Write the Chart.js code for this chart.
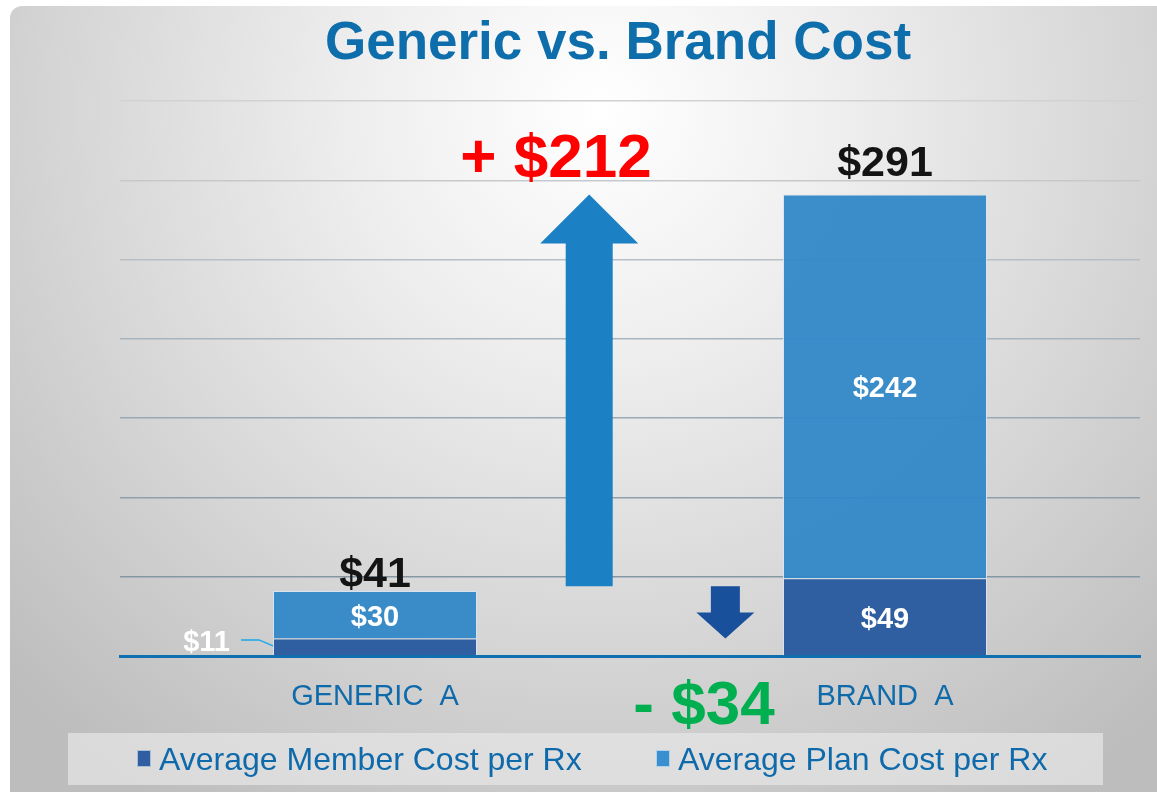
<!DOCTYPE html>
<html><head><meta charset="utf-8">
<script src="https://cdn.jsdelivr.net/npm/chart.js@4/dist/chart.umd.min.js"></script>
<style>html,body{margin:0;padding:0;background:#fff;overflow:hidden}#wrap{width:1157px;height:793px;position:relative}canvas{display:block}</style>
</head><body><div id="wrap"><canvas id="c" width="1157" height="793"></canvas></div>
<script>
// ---- data ----
const categories = ['GENERIC  A', 'BRAND  A'];
const memberCost = [11, 49];
const planCost = [30, 242];
const seriesNames = ['Average Member Cost per Rx', 'Average Plan Cost per Rx'];
const yTicks = [0, 50, 100, 150, 200, 250, 300, 350];
const planDeltaText = '+ $212';
const memberDeltaText = '- $34';

// ---- styles ----
const FONT = '"Liberation Sans", Arial, Helvetica, sans-serif';
const BLUE_TEXT = '#0f6aab';
const MEMBER_COLOR = '#2f5fa0';
const PLAN_COLOR = 'rgba(50,136,200,0.95)';
const gridColors = ['rgba(0,0,0,0)', '#8497a3', '#8fa0ab', '#9aa9b3', '#a8b4bc', '#b7bfc5', '#c6c9cc', '#d2d2d2'];

const money = v => '$' + v;

const bgPlugin = {
  id: 'bg',
  beforeDraw(chart) {
    const ctx = chart.ctx;
    ctx.save();
    ctx.fillStyle = '#ffffff';
    ctx.fillRect(0, 0, chart.width, chart.height);
    const g = ctx.createRadialGradient(600, 110, 0, 600, 110, 820);
    g.addColorStop(0, '#ffffff');
    g.addColorStop(0.3, '#eeeeee');
    g.addColorStop(0.65, '#d6d6d6');
    g.addColorStop(1, '#bdbdbd');
    ctx.fillStyle = g;
    ctx.beginPath();
    ctx.roundRect(10, 6, chart.width - 10, chart.height - 7, [12, 0, 0, 0]);
    ctx.fill();
    // legend panel
    ctx.fillStyle = 'rgba(228,228,228,0.75)';
    ctx.fillRect(68, 733, 1035, 52);
    ctx.restore();
  }
};

function drawArrow(ctx, cx, yStart, yTip, bodyW, headW, headLen, color) {
  const dir = yTip < yStart ? -1 : 1;
  const headBase = yTip - dir * headLen;
  ctx.save();
  ctx.fillStyle = color;
  ctx.beginPath();
  ctx.moveTo(cx - bodyW / 2, yStart);
  ctx.lineTo(cx - bodyW / 2, headBase);
  ctx.lineTo(cx - headW / 2, headBase);
  ctx.lineTo(cx, yTip);
  ctx.lineTo(cx + headW / 2, headBase);
  ctx.lineTo(cx + bodyW / 2, headBase);
  ctx.lineTo(cx + bodyW / 2, yStart);
  ctx.closePath();
  ctx.fill();
  ctx.restore();
}

const annotPlugin = {
  id: 'annot',
  afterDatasetsDraw(chart) {
    const ctx = chart.ctx;
    const xs = chart.scales.x, ys = chart.scales.y;
    const xAt = t => xs.getPixelForValue(0) + t * (xs.getPixelForValue(1) - xs.getPixelForValue(0));
    const totals = memberCost.map((m, i) => m + planCost[i]);
    const m0 = chart.getDatasetMeta(0), m1 = chart.getDatasetMeta(1);

    // arrows
    drawArrow(ctx, xAt(0.42), ys.getPixelForValue(totals[0] + 3), ys.getPixelForValue(totals[1]), 47, 98, 49, '#1b80c4');
    drawArrow(ctx, xAt(0.687), ys.getPixelForValue(totals[0] + 3), ys.getPixelForValue(memberCost[0]), 29, 58, 26, '#18509c');

    ctx.save();
    ctx.textAlign = 'center';
    ctx.textBaseline = 'middle';
    // segment labels (white)
    ctx.fillStyle = '#ffffff';
    ctx.font = 'bold 29px ' + FONT;
    m1.data.forEach((el, i) => {
      ctx.fillText(money(planCost[i]), el.x, (el.y + el.base) / 2 + 3);
    });
    m0.data.forEach((el, i) => {
      if (i === 0) return;
      ctx.fillText(money(memberCost[i]), el.x, (el.y + el.base) / 2 + 3);
    });
    // small member label on generic with leader line
    const e0 = m0.data[0];
    const left0 = e0.x - e0.width / 2;
    const cy0 = (e0.y + e0.base) / 2;
    ctx.strokeStyle = '#1aa6ea';
    ctx.lineWidth = 1.5;
    ctx.beginPath();
    ctx.moveTo(left0 - 32, cy0 - 7);
    ctx.lineTo(left0 - 14, cy0 - 7);
    ctx.lineTo(left0, cy0 - 1);
    ctx.stroke();
    ctx.textAlign = 'right';
    ctx.fillText(money(memberCost[0]), left0 - 43, cy0 - 4);

    // totals (black)
    ctx.textAlign = 'center';
    ctx.fillStyle = '#141414';
    ctx.font = 'bold 43px ' + FONT;
    const totalOffsets = [16, 30];
    m1.data.forEach((el, i) => {
      ctx.fillText(money(totals[i]), el.x, el.y - totalOffsets[i]);
    });

    // deltas
    ctx.font = 'bold 62px ' + FONT;
    ctx.fillStyle = '#ff0000';
    ctx.fillText(planDeltaText, xAt(0.355), ys.getPixelForValue(313));
    ctx.fillStyle = '#00b050';
    ctx.fillText(memberDeltaText, xAt(0.645), ys.getPixelForValue(-32));
    ctx.restore();
  }
};

const legendPlugin = {
  id: 'customLegend',
  afterDraw(chart) {
    const ctx = chart.ctx;
    const starts = [137, 656];
    ctx.save();
    ctx.font = '32px ' + FONT;
    ctx.textBaseline = 'middle';
    ctx.textAlign = 'left';
    chart.data.datasets.forEach((ds, i) => {
      const x = starts[i];
      ctx.fillStyle = ds.legendColor;
      ctx.fillRect(x, 750, 14, 17);
      ctx.strokeStyle = 'rgba(255,255,255,0.6)';
      ctx.lineWidth = 1;
      ctx.strokeRect(x + 0.5, 750.5, 13, 16);
      ctx.fillStyle = BLUE_TEXT;
      ctx.fillText(ds.label, x + 22, 761);
    });
    ctx.restore();
  }
};

new Chart(document.getElementById('c'), {
  type: 'bar',
  data: {
    labels: categories,
    datasets: [
      { label: seriesNames[0], data: memberCost, backgroundColor: MEMBER_COLOR, legendColor: MEMBER_COLOR,
        borderColor: 'rgba(215,228,242,0.9)', borderWidth: 1, borderSkipped: 'bottom' },
      { label: seriesNames[1], data: planCost, backgroundColor: PLAN_COLOR, legendColor: '#3a8fcf',
        borderColor: 'rgba(215,228,242,0.9)', borderWidth: 1, borderSkipped: 'bottom' }
    ]
  },
  options: {
    responsive: false,
    animation: false,
    devicePixelRatio: 1,
    layout: { padding: { left: 96, right: 17, top: 0, bottom: 80 } },
    datasets: { bar: { categoryPercentage: 1, barPercentage: 0.4 } },
    scales: {
      x: {
        stacked: true,
        z: 1,
        grid: { display: false, drawTicks: false },
        border: { display: true, color: '#0f6fb0', width: 3 },
        ticks: { color: BLUE_TEXT, font: { family: FONT, size: 29 }, padding: 24 },
        afterFit(s) { s.height = 57; }
      },
      y: {
        stacked: true,
        min: yTicks[0], max: yTicks[yTicks.length - 1],
        afterBuildTicks(s) { s.ticks = yTicks.map(v => ({ value: v })); },
        ticks: { display: false },
        grid: { color: c => gridColors[c.index] || '#d2d2d2', lineWidth: 1.5, drawTicks: false },
        border: { display: false },
        afterFit(s) { s.width = 24; }
      }
    },
    plugins: {
      legend: { display: false },
      tooltip: { enabled: false },
      title: {
        display: true,
        text: 'Generic vs. Brand Cost',
        color: '#0e6eab',
        font: { family: FONT, size: 53, weight: 'bold' },
        padding: { top: 13, bottom: 24.4 }
      }
    }
  },
  plugins: [bgPlugin, annotPlugin, legendPlugin]
});
</script>
</body></html>
